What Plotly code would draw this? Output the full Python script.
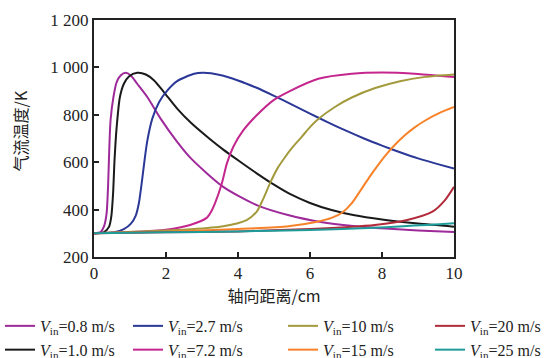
import plotly.graph_objects as go

# ---- data (axial distance in cm, gas temperature in K) ----
x_08 = [0, 0.185, 0.28, 0.35, 0.39, 0.42, 0.46, 0.54, 0.63, 0.74, 0.88, 1.02, 1.2, 1.48, 1.85, 2.31, 2.7, 3.59, 4.52, 5.44, 6.3, 7.2, 8.1, 9.0, 10]
y_08 = [300, 305, 330, 384, 496, 637, 777, 875, 938, 966, 977, 966, 931, 875, 784, 686, 615, 496, 419, 375, 348, 331, 320, 312, 305]

x_10 = [0, 0.28, 0.42, 0.48, 0.53, 0.57, 0.63, 0.72, 0.83, 0.97, 1.2, 1.44, 1.67, 1.94, 2.31, 2.7, 3.2, 3.6, 4.05, 4.52, 5.0, 5.44, 6.0, 6.6, 7.2, 8.0, 9.0, 10]
y_10 = [300, 305, 328, 370, 468, 608, 749, 875, 931, 962, 977, 970, 945, 896, 826, 765, 700, 652, 603, 553, 505, 466, 428, 398, 377, 358, 341, 328]

x_27 = [0, 0.56, 0.83, 1.02, 1.16, 1.25, 1.34, 1.41, 1.48, 1.62, 1.81, 2.04, 2.31, 2.78, 3.04, 3.5, 4.0, 4.5, 5.0, 5.5, 6.0, 6.5, 7.0, 7.5, 8.0, 8.5, 9.0, 9.5, 10]
y_27 = [300, 305, 318, 340, 375, 430, 530, 615, 690, 784, 854, 903, 942, 973, 977, 968, 945, 915, 880, 843, 805, 768, 733, 700, 670, 642, 616, 594, 573]

x_72 = [0, 1.0, 2.0, 2.67, 3.13, 3.25, 3.36, 3.55, 3.69, 3.87, 4.15, 4.52, 4.98, 5.44, 6.23, 7.16, 8.0, 9.0, 10]
y_72 = [300, 305, 315, 335, 365, 390, 426, 510, 594, 665, 735, 798, 861, 900, 952, 973, 978, 972, 959]

x_100 = [0, 2.0, 2.67, 3.59, 4.24, 4.52, 4.7, 4.9, 5.1, 5.3, 5.5, 5.77, 6.0, 6.23, 6.69, 7.16, 7.81, 8.5, 9.2, 10]
y_100 = [300, 312, 317, 330, 356, 391, 445, 515, 575, 620, 660, 707, 748, 782, 833, 873, 913, 942, 960, 970]

x_150 = [0, 2.0, 4.0, 5.4, 6.2, 6.6, 6.9, 7.15, 7.4, 7.65, 7.9, 8.15, 8.4, 8.65, 8.9, 9.2, 9.6, 10]
y_150 = [300, 307, 318, 330, 349, 365, 388, 425, 480, 537, 590, 638, 680, 716, 746, 776, 808, 833]

x_200 = [0, 2.0, 4.0, 6.0, 7.0, 7.8, 8.7, 9.4, 9.75, 10]
y_200 = [300, 304, 308, 318, 326, 335, 356, 391, 440, 496]

x_250 = [0, 2.0, 4.0, 6.0, 7.8, 10]
y_250 = [300, 304, 308, 314, 323, 342]

series_names = ["0.8", "1.0", "2.7", "7.2", "10", "15", "20", "25"]
series_x = [x_08, x_10, x_27, x_72, x_100, x_150, x_200, x_250]
series_y = [y_08, y_10, y_27, y_72, y_100, y_150, y_200, y_250]
colors = ["#9E2A9A", "#1A1A1A", "#2B3897", "#C4268E", "#A39A3E", "#F7822A", "#B22B3A", "#1E9C9A"]
# legend layout: 4 columns of 2 entries
legend_ids = ["legend", "legend", "legend2", "legend2", "legend3", "legend3", "legend4", "legend4"]

y_tickvals = [200, 400, 600, 800, 1000, 1200]
y_ticktext = ["200", "400", "600", "800", "1 000", "1 200"]
x_tickvals = [0, 2, 4, 6, 8, 10]

SERIF = "Liberation Serif, Times New Roman, serif"
CJK = "Noto Sans CJK SC"

fig = go.Figure()
for name, xs, ys, c, lg in zip(series_names, series_x, series_y, colors, legend_ids):
    fig.add_trace(go.Scatter(
        x=xs, y=ys, mode="lines",
        line=dict(color=c, width=2, shape="spline", smoothing=0.7),
        name=f"<i>V</i><sub>in</sub>=%s m/s" % name,
        legend=lg,
    ))

axis_common = dict(
    showgrid=False, zeroline=False, showline=True, linecolor="#222222", linewidth=2,
    mirror=True, ticks="inside", ticklen=5, tickwidth=1.5, tickcolor="#222222",
    tickfont=dict(family=SERIF, size=17, color="#222222"),
)

def legend_box(xpos):
    return dict(
        orientation="v", xref="container", yref="container",
        x=xpos, y=0.137, xanchor="left", yanchor="top",
        font=dict(family=SERIF, size=16, color="#222222"),
        tracegroupgap=0, itemwidth=30, bgcolor="rgba(0,0,0,0)",
    )

fig.update_layout(
    width=560, height=358,
    margin=dict(l=94, r=106, t=20, b=101, autoexpand=False),
    paper_bgcolor="white", plot_bgcolor="white",
    showlegend=True,
    legend=legend_box(0.0),
    legend2=legend_box(128 / 560),
    legend3=legend_box(283 / 560),
    legend4=legend_box(430 / 560),
    xaxis=dict(
        range=[0, 10], tickvals=x_tickvals,
        title=dict(text="轴向距离/cm", font=dict(family=CJK, size=16, color="#222222"), standoff=6),
        **axis_common,
    ),
    yaxis=dict(
        range=[200, 1200], tickvals=y_tickvals, ticktext=y_ticktext,
        **axis_common,
    ),
    annotations=[dict(
        text="气流温度/K", textangle=-90, showarrow=False,
        xref="paper", yref="paper", x=(20 - 94) / 360, y=0.53,
        xanchor="center", yanchor="middle",
        font=dict(family=CJK, size=16, color="#222222"),
    )],
)

fig.write_html("out.html")
